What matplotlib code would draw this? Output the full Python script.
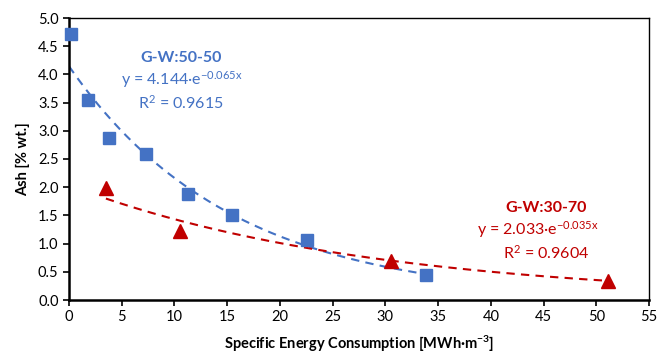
import numpy as np
import matplotlib
matplotlib.use("Agg")
import matplotlib.pyplot as plt

plt.rcParams['font.family'] = ['Lato', 'DejaVu Sans']
plt.rcParams['mathtext.fontset'] = 'custom'
plt.rcParams['mathtext.rm'] = 'Lato'
plt.rcParams['mathtext.it'] = 'Lato'
plt.rcParams['mathtext.bf'] = 'Lato:bold'
plt.rcParams['mathtext.default'] = 'regular'

# Data
blue_x = [0.2, 1.8, 3.8, 7.3, 11.3, 15.5, 22.6, 33.9]
blue_y = [4.72, 3.55, 2.87, 2.59, 1.88, 1.51, 1.06, 0.45]
red_x = [3.5, 10.5, 30.5, 51.1]
red_y = [1.99, 1.22, 0.69, 0.34]

# Trendline coefficients as displayed
blue_a, blue_b = 4.144, -0.065
red_a, red_b = 2.033, -0.035

xticks = [0, 5, 10, 15, 20, 25, 30, 35, 40, 45, 50, 55]
yticks = [0.0, 0.5, 1.0, 1.5, 2.0, 2.5, 3.0, 3.5, 4.0, 4.5, 5.0]

BLUE = '#4472C4'
RED = '#C00000'

fig = plt.figure(figsize=(6.57, 3.54), dpi=100)
ax = fig.add_axes([69/657, 1-300/354, 580/657, 282/354])

tb = np.linspace(0, max(blue_x), 200)
ax.plot(tb, blue_a*np.exp(blue_b*tb), '--', color=BLUE, lw=1.5, dashes=(4, 3), zorder=2)
tr = np.linspace(min(red_x), max(red_x), 200)
ax.plot(tr, red_a*np.exp(red_b*tr), '--', color=RED, lw=1.5, dashes=(4, 3), zorder=2)

ax.plot(blue_x, blue_y, 's', color=BLUE, ms=8.5, zorder=3, clip_on=False)
ax.plot(red_x, red_y, '^', color=RED, ms=10, zorder=3, clip_on=False)

ax.set_xlim(0, 55)
ax.set_ylim(0, 5)
ax.set_xticks(xticks)
ax.set_yticks(yticks)
ax.set_yticklabels([f'{v:.1f}' for v in yticks])
ax.tick_params(labelsize=10.5, direction='out', length=4, width=1.2, colors='black')
for s in ['left', 'bottom']:
    ax.spines[s].set_linewidth(1.8)
for s in ['top', 'right']:
    ax.spines[s].set_linewidth(1.0)

ax.set_xlabel('Specific Energy Consumption [MWh·m$^{-3}$]', fontsize=10.5, fontweight='bold', labelpad=7)
ax.set_ylabel('Ash [% wt.]', fontsize=10.5, fontweight='bold', labelpad=6)

def px2data(px, py):
    x = (px - 69) / 580 * 55
    y = (300 - py) / 282 * 5
    return x, y

ax.text(*px2data(181, 58), 'G-W:50-50', color=BLUE, fontsize=11.5, fontweight='bold', ha='center', va='center')
ax.text(*px2data(182, 80), 'y = 4.144·e$^{-0.065x}$', color=BLUE, fontsize=11.5, ha='center', va='center')
ax.text(*px2data(181, 103), 'R$^2$ = 0.9615', color=BLUE, fontsize=11.5, ha='center', va='center')

ax.text(*px2data(546, 208), 'G-W:30-70', color=RED, fontsize=11.5, fontweight='bold', ha='center', va='center')
ax.text(*px2data(538, 230), 'y = 2.033·e$^{-0.035x}$', color=RED, fontsize=11.5, ha='center', va='center')
ax.text(*px2data(546, 253), 'R$^2$ = 0.9604', color=RED, fontsize=11.5, ha='center', va='center')

fig.savefig('out.png', dpi=100)
